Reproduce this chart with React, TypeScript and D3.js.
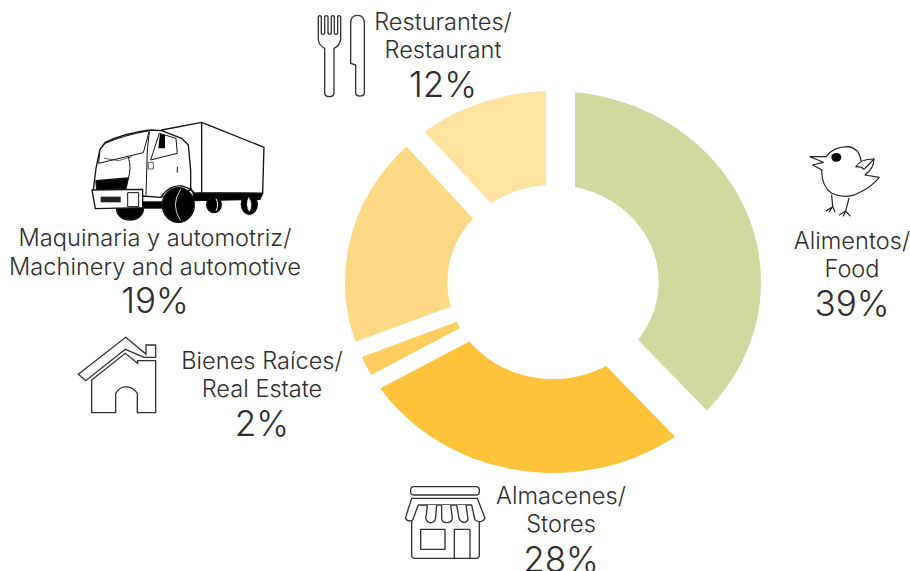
import React from "react";
import * as d3 from "d3";

const categories = ["Alimentos/ Food", "Almacenes/ Stores", "Bienes Raíces/ Real Estate", "Maquinaria y automotriz/ Machinery and automotive", "Resturantes/ Restaurant"];
const shares = [38.4, 28.3, 2.2, 19.9, 11.2];
const sliceColors = ["#d3d89e", "#ffc33b", "#ffcd60", "#ffd985", "#ffe1a0"];
const sliceOffsets = [[22, -7], [-9, 20], [-44.5, 20.6], [-25, -4], [-7, -19]];

type Lab = { lines: string[]; pct: string; x: number; y: number[] };
const labels: Lab[] = [
  { lines: ["Alimentos/", "Food"], pct: "39%", x: 852, y: [249, 277, 316] },
  { lines: ["Almacenes/", "Stores"], pct: "28%", x: 561, y: [504, 532, 572] },
  { lines: ["Bienes Raíces/", "Real Estate"], pct: "2%", x: 262, y: [369, 397, 436] },
  { lines: ["Maquinaria y automotriz/", "Machinery and automotive"], pct: "19%", x: 155, y: [246, 275, 313] },
  { lines: ["Resturantes/", "Restaurant"], pct: "12%", x: 443, y: [30, 58, 97] },
];

const cx = 553, cy = 282, ry = 191, ryInner = 97, stretch = 208 / 191;
const FONT = "Inter, sans-serif";
const INK = "#2e2e2e";

function Truck() {
  return (
    <g transform="translate(60,110) scale(0.3333)" fill="#fff" stroke="#111" strokeWidth={4} strokeLinejoin="round">
      <path d="M305,60 L425,37 L612,112 L608,250 L425,248 L400,250 Z M425,37 L425,248" />
      <path d="M400,250 L608,250 L600,268 L400,272 Z" fill="#000" />
      <ellipse cx={462} cy={284} rx={22} ry={24} fill="#000" />
      <path d="M468,266 Q478,285 468,302" fill="none" stroke="#fff" strokeWidth={3} />
      <ellipse cx={568} cy={283} rx={24} ry={30} fill="#000" />
      <path d="M566,258 Q552,284 568,308 Q584,284 566,258" fill="#fff" strokeWidth={3} />
      <ellipse cx={210} cy={298} rx={40} ry={32} fill="#000" />
      <path d="M100,240 L108,175 L120,118 L135,98 Q190,70 270,60 L305,62 L365,85 L385,105 L392,180 L392,240 L300,262 L250,258 L110,260 Z" />
      <path d="M116,160 L120,120 L136,100 Q190,76 268,62 L250,128 Z" strokeWidth={3} />
      <path d="M132,145 L176,152 L215,140" fill="none" strokeWidth={2} />
      <path d="M272,150 L298,70 L348,85 L352,130 Z" strokeWidth={3} />
      <path d="M295,115 L300,72 L315,75 L315,115 Z" fill="#000" stroke="none" />
      <path d="M258,255 L262,120 L268,65 M352,170 V188 M205,140 Q215,175 205,205" fill="none" strokeWidth={3} />
      <rect x={265} y={157} width={15} height={20} strokeWidth={2} />
      <path d="M108,212 L205,204 L198,236 L110,240 Z" fill="#000" />
      <rect x={245} y={274} width={70} height={22} fill="#000" stroke="none" />
      <path d="M96,240 L248,238 L248,293 L106,296 Z" />
      <rect x={122} y={260} width={60} height={17} fill="#222" stroke="none" />
      <rect x={203} y={248} width={33} height={42} strokeWidth={3} />
      <ellipse cx={355} cy={285} rx={48} ry={52} fill="#000" />
      <path d="M362,238 Q330,285 362,332" fill="none" stroke="#ccc" strokeWidth={3} />
      <path d="M305,258 Q330,224 365,228 Q395,235 405,252" fill="none" strokeWidth={4} />
    </g>
  );
}

function Cutlery() {
  return (
    <g transform="translate(300,0) scale(0.3333)" fill="#fff" stroke="#333" strokeWidth={4} strokeLinejoin="round">
      <path d="M55,50 V120 Q58,138 74,145 V280 Q76,290 88,290 Q100,290 102,280 V145 Q118,138 122,120 V50 Q117,44 113,50 V100 Q108,106 103,100 V50 Q98,44 94,50 V100 Q89,106 84,100 V50 Q79,44 74,50 V100 Q69,106 64,100 V50 Q59,44 55,50 Z" />
      <path d="M152,70 Q152,46 172,46 Q193,46 193,70 V280 Q192,288 180,288 Q168,288 167,280 V195 L152,190 Z" />
    </g>
  );
}

function Store() {
  return (
    <g transform="translate(390,470) scale(0.3333)" fill="none" stroke="#333" strokeWidth={4} strokeLinejoin="round">
      <rect x={62} y={50} width={206} height={25} rx={10} />
      <path d="M65,150 V255 Q65,265 75,265 H258 Q268,265 268,255 V150" />
      <rect x={92} y={178} width={73} height={60} />
      <path d="M193,265 V178 H240 V265" />
      <path d="M65,85 H262 L285,145 Q275,162 255,150 L245,105 H85 L68,150 Q55,158 46,145 Z" fill="#fff" />
      <path d="M112,105 Q110,130 107,145 Q112,160 125,158 Q137,155 137,140 L140,105" fill="#fff" />
      <path d="M155,105 V145 Q155,158 170,158 Q185,158 187,145 L182,105" fill="#fff" />
      <path d="M200,105 L207,145 Q212,158 225,157 Q237,153 233,140 L228,105" fill="#fff" />
    </g>
  );
}

function House() {
  return (
    <g transform="translate(70,330) scale(0.3333)" fill="#fff" stroke="#333" strokeWidth={4} strokeLinejoin="miter">
      <path d="M25,133 L167,22 L228,72 V45 H257 V82 H222 L166,58 L47,152 Z" />
      <path d="M65,150 V248 H137 V190 Q150,170 168,170 Q190,172 202,190 V248 H257 V92 H203 V100 L166,70 Z" />
    </g>
  );
}

function Chick() {
  return (
    <g transform="translate(800,135) scale(0.3333)" fill="none" stroke="#222" strokeWidth={3.5} strokeLinejoin="round" strokeLinecap="round">
      <path d="M78,65 Q100,35 145,35 Q178,40 183,78 M168,95 Q180,72 222,72 Q222,100 195,120 L238,127 Q215,155 180,172 Q140,195 95,175 Q65,155 65,105" />
      <path d="M78,65 L30,65 L70,82 L38,90 L66,105" />
      <path d="M168,95 Q185,95 192,103 Q205,90 222,72" />
      <ellipse cx={109} cy={67} rx={15} ry={13} fill="#000" stroke="none" />
      <path d="M95,180 L98,215 L78,228 M98,215 L88,230 M98,215 L105,230" />
      <path d="M147,190 L137,228 L118,240 M137,228 L130,243 M137,228 L150,243" />
    </g>
  );
}

export default function App() {
  const pie = d3.pie<number>().sort(null).value((d) => d);
  const arcs = pie(shares);
  const wedge = d3.arc<d3.PieArcDatum<number>>().innerRadius(0).outerRadius(420);
  const ring = d3.arc()({ innerRadius: ryInner, outerRadius: ry, startAngle: 0, endAngle: 2 * Math.PI }) as string;
  return (
    <svg width={910} height={571} style={{ position: "absolute", left: 0, top: 0 }}>
      <defs>
        <clipPath id="ring">
          <path d={ring} clipRule="evenodd" transform={`translate(${cx},${cy}) scale(${stretch},1)`} />
        </clipPath>
      </defs>
      <g clipPath="url(#ring)">
        {arcs.map((a, i) => (
          <path
            key={categories[i]}
            d={wedge(a) as string}
            fill={sliceColors[i]}
            transform={`translate(${cx + sliceOffsets[i][0]},${cy + sliceOffsets[i][1]}) scale(${stretch},1)`}
          />
        ))}
      </g>
      <Truck />
      <Cutlery />
      <Store />
      <House />
      <Chick />
      {labels.map((l) => (
        <g key={l.pct} textAnchor="middle" fill={INK} fontFamily={FONT} fontWeight={300}>
          <text x={l.x} y={l.y[0]} fontSize={23.6}>{l.lines[0]}</text>
          <text x={l.x} y={l.y[1]} fontSize={23.6}>{l.lines[1]}</text>
          <text x={l.x} y={l.y[2]} fontSize={35}>{l.pct}</text>
        </g>
      ))}
    </svg>
  );
}
